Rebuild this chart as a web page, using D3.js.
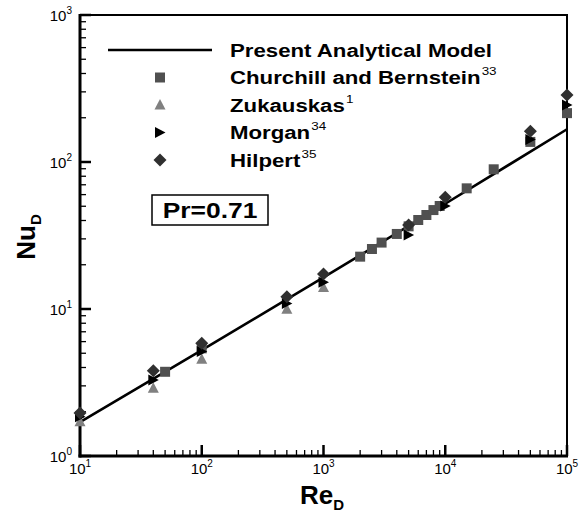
<!DOCTYPE html>
<html>
<head>
<meta charset="utf-8">
<script src="https://cdn.jsdelivr.net/npm/d3@7"></script>
<style>
  body { margin: 0; background: #fff; }
  svg { display: block; font-family: "Liberation Sans", Arial, sans-serif; }
</style>
</head>
<body>
<div id="chart"></div>
<script>
// Present analytical model (solid line)
const modelRe = [10, 100, 1000, 10000, 100000];
const modelNu = [1.70, 5.25, 16.4, 52, 167];

// Churchill and Bernstein (squares)
const churchillRe = [50, 100, 2000, 2500, 3000, 4000, 5000, 6000, 7000, 8000, 9000, 15000, 25000, 50000, 100000];
const churchillNu = [3.74, 5.4, 22.7, 25.6, 28.3, 32.4, 36.5, 40.3, 43.6, 47.1, 50.2, 66.2, 89.2, 137, 215];

// Zukauskas (triangles)
const zukauskasRe = [10, 40, 100, 500, 1000];
const zukauskasNu = [1.71, 2.89, 4.55, 9.95, 14.0];

// Morgan (right triangles)
const morganRe = [10, 40, 100, 500, 1000, 5000, 10000, 50000, 100000];
const morganNu = [1.85, 3.29, 5.13, 10.9, 15.2, 31.9, 50.2, 142, 244];

// Hilpert (diamonds)
const hilpertRe = [10, 40, 100, 500, 1000, 5000, 10000, 50000, 100000];
const hilpertNu = [1.96, 3.80, 5.84, 12.1, 17.3, 37.3, 57.5, 162, 286];

const xMajor = [1, 2, 3, 4, 5];
const yMajor = [0, 1, 2, 3];

const legendNames = ['Present Analytical Model', 'Churchill and Bernstein', 'Zukauskas', 'Morgan', 'Hilpert'];
const legendRefs = ['', '33', '1', '34', '35'];

const width = 579, height = 513;
const margin = { top: 15, right: 12, bottom: 57, left: 80 };

const svg = d3.select('#chart').append('svg')
    .attr('width', width)
    .attr('height', height);

const x = d3.scaleLog().domain([10, 1e5]).range([margin.left, width - margin.right]);
const y = d3.scaleLog().domain([1, 1000]).range([height - margin.bottom, margin.top]);

const x0 = x.range()[0], x1 = x.range()[1];
const y0 = y.range()[0], y1 = y.range()[1];

/* frame */
svg.append('line').attr('x1', x0).attr('x2', x1).attr('y1', y1).attr('y2', y1)
    .attr('stroke', '#000').attr('stroke-width', 2);
svg.append('line').attr('x1', x1).attr('x2', x1).attr('y1', y1 - 1).attr('y2', y0)
    .attr('stroke', '#000').attr('stroke-width', 2);

/* ticks */
function minorTicks(lo, hi) {
    const out = [];
    for (let e = lo; e < hi; e++) {
        for (let k = 2; k <= 9; k++) out.push(k * Math.pow(10, e));
    }
    return out;
}

const tickG = svg.append('g');
tickG.selectAll('.xminor').data(minorTicks(1, 5)).join('line')
    .attr('x1', d => x(d)).attr('x2', d => x(d))
    .attr('y1', y0).attr('y2', y0 - 6)
    .attr('stroke', '#000').attr('stroke-width', 1.3);
tickG.selectAll('.xmajor').data(xMajor).join('line')
    .attr('x1', d => x(Math.pow(10, d))).attr('x2', d => x(Math.pow(10, d)))
    .attr('y1', y0).attr('y2', y0 - 11)
    .attr('stroke', '#000').attr('stroke-width', 2.5);
tickG.selectAll('.yminor').data(minorTicks(0, 3)).join('line')
    .attr('x1', x0).attr('x2', x0 + 6)
    .attr('y1', d => y(d)).attr('y2', d => y(d))
    .attr('stroke', '#000').attr('stroke-width', 1.3);
tickG.selectAll('.ymajor').data(yMajor).join('line')
    .attr('x1', x0).attr('x2', x0 + 11)
    .attr('y1', d => y(Math.pow(10, d))).attr('y2', d => y(Math.pow(10, d)))
    .attr('stroke', '#000').attr('stroke-width', 2.5);

/* axes lines (thicker) */
svg.append('line').attr('x1', x0).attr('x2', x0).attr('y1', y1 - 1).attr('y2', y0 + 1.5)
    .attr('stroke', '#000').attr('stroke-width', 3);
svg.append('line').attr('x1', x0 - 1.5).attr('x2', x1 + 1).attr('y1', y0).attr('y2', y0)
    .attr('stroke', '#000').attr('stroke-width', 3);

/* tick labels */
const xl = svg.append('g').selectAll('text').data(xMajor).join('text')
    .attr('x', d => x(Math.pow(10, d)))
    .attr('y', y0 + 18)
    .attr('text-anchor', 'middle')
    .attr('font-size', 15);
xl.append('tspan').text('10');
xl.append('tspan').attr('font-size', 10).attr('dy', -7).text(d => d);

const yl = svg.append('g').selectAll('text').data(yMajor).join('text')
    .attr('x', x0 - 8)
    .attr('y', d => y(Math.pow(10, d)) + 6)
    .attr('text-anchor', 'end')
    .attr('font-size', 15);
yl.append('tspan').text('10');
yl.append('tspan').attr('font-size', 10).attr('dy', -7).text(d => d);

/* axis titles */
const xt = svg.append('text')
    .attr('x', 322).attr('y', 504)
    .attr('text-anchor', 'middle')
    .attr('font-weight', 'bold').attr('font-size', 26);
xt.append('tspan').text('Re');
xt.append('tspan').attr('font-size', 15).attr('dy', 6).text('D');

const yt = svg.append('text')
    .attr('transform', 'translate(35,237) rotate(-90)')
    .attr('text-anchor', 'middle')
    .attr('font-weight', 'bold').attr('font-size', 26);
yt.append('tspan').text('Nu');
yt.append('tspan').attr('font-size', 15).attr('dy', 6).text('D');

/* model line */
const line = d3.line().x(d => x(d[0])).y(d => y(d[1]));
svg.append('path')
    .datum(d3.zip(modelRe, modelNu))
    .attr('d', line)
    .attr('fill', 'none')
    .attr('stroke', '#000')
    .attr('stroke-width', 2.6);

/* marker shapes */
const shapes = {
    square: 'M-5,-5H5V5H-5Z',
    triangle: 'M0,-6L5.5,4.5H-5.5Z',
    right: 'M-5,-5.5L5.5,0L-5,5.5Z',
    diamond: 'M0,-6.5L6.5,0L0,6.5L-6.5,0Z'
};

const series = [
    { re: churchillRe, nu: churchillNu, shape: shapes.square, color: '#505050' },
    { re: zukauskasRe, nu: zukauskasNu, shape: shapes.triangle, color: '#808080' },
    { re: morganRe, nu: morganNu, shape: shapes.right, color: '#000000' },
    { re: hilpertRe, nu: hilpertNu, shape: shapes.diamond, color: '#303030' }
];

series.forEach(s => {
    svg.append('g').selectAll('path')
        .data(d3.zip(s.re, s.nu))
        .join('path')
        .attr('d', s.shape)
        .attr('transform', d => `translate(${x(d[0])},${y(d[1])})`)
        .attr('fill', s.color);
});

/* legend */
const legend = svg.append('g');
const rowY = i => 50 + i * 27.5;
legend.append('line')
    .attr('x1', 108).attr('x2', 212)
    .attr('y1', rowY(0)).attr('y2', rowY(0))
    .attr('stroke', '#000').attr('stroke-width', 2.6);
series.forEach((s, i) => {
    legend.append('path')
        .attr('d', s.shape)
        .attr('transform', `translate(160,${rowY(i + 1)})`)
        .attr('fill', s.color);
});
legendNames.forEach((name, i) => {
    const t = legend.append('text')
        .attr('transform', `translate(230,${rowY(i) + 6.5}) scale(1.17,1)`)
        .attr('font-weight', 'bold').attr('font-size', 19);
    t.append('tspan').text(name);
    if (legendRefs[i]) {
        t.append('tspan').attr('font-size', 11.5).attr('font-weight', 'normal')
            .attr('dy', -9).attr('dx', 1).text(legendRefs[i]);
    }
});

/* Pr box */
svg.append('rect')
    .attr('x', 152).attr('y', 195).attr('width', 116).attr('height', 30)
    .attr('fill', '#fff').attr('stroke', '#000').attr('stroke-width', 1.5);
svg.append('text')
    .attr('transform', 'translate(210,218) scale(1.2,1)')
    .attr('text-anchor', 'middle')
    .attr('font-weight', 'bold').attr('font-size', 22)
    .text('Pr=0.71');
</script>
</body>
</html>
